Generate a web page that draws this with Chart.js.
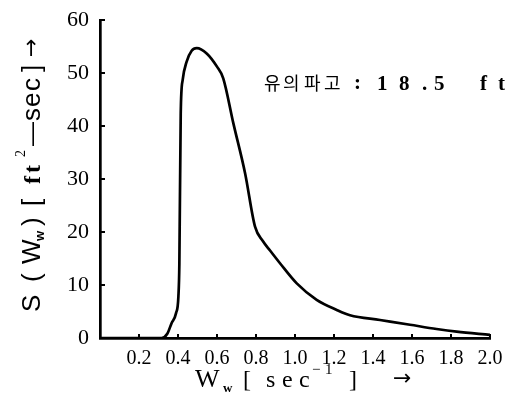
<!DOCTYPE html>
<html><head><meta charset="utf-8">
<script src="https://cdn.jsdelivr.net/npm/chart.js@4/dist/chart.umd.min.js"></script>
<style>html,body{margin:0;padding:0;background:#fff;}canvas{display:block}</style>
</head><body>
<canvas id="c" width="527" height="397"></canvas>
<script>
// ---- data ----
const frequency = [0, 0.10, 0.20, 0.30, 0.316, 0.345, 0.367, 0.390, 0.402, 0.407, 0.414, 0.424, 0.444, 0.470, 0.496, 0.547, 0.600, 0.632, 0.684, 0.744, 0.795, 0.835, 0.872, 0.923, 1.009, 1.111, 1.214, 1.282, 1.436, 1.590, 1.726, 1.829, 2.0];
const spectrum  = [0, 0, 0, 0, 0, 0.8, 2.8, 4.7, 7.8, 14.1, 42.4, 48.7, 52.1, 54.2, 54.7, 53.7, 51.2, 49.0, 40.5, 31.1, 21.0, 18.3, 16.5, 14.1, 10.3, 7.2, 5.3, 4.3, 3.4, 2.5, 1.7, 1.2, 0.6];
const xTickValues = [0.2, 0.4, 0.6, 0.8, 1.0, 1.2, 1.4, 1.6, 1.8, 2.0];
const yTickValues = [0, 10, 20, 30, 40, 50, 60];
const annotationLabel = '유의파고';
const annotationValue = '18.5';
const annotationUnit = 'ft';

const points = frequency.map((x, i) => ({x: x, y: spectrum[i]}));

function chars(ctx, list, y) { list.forEach(([t, x]) => ctx.fillText(t, x, y)); }

const decor = {
  id: 'decor',
  afterDraw(chart) {
    const ctx = chart.ctx, xs = chart.scales.x, ys = chart.scales.y;
    const a = chart.chartArea;
    ctx.save();
    ctx.strokeStyle = '#000'; ctx.lineWidth = 2;
    xTickValues.forEach(v => { const p = xs.getPixelForValue(v); ctx.beginPath(); ctx.moveTo(p, a.bottom); ctx.lineTo(p, a.bottom - 4); ctx.stroke(); });
    yTickValues.forEach(v => { if (v === 0) return; const p = ys.getPixelForValue(v); ctx.beginPath(); ctx.moveTo(a.left, p); ctx.lineTo(a.left + 5, p); ctx.stroke(); });
    ctx.fillStyle = '#000'; ctx.textBaseline = 'alphabetic'; ctx.textAlign = 'left';

    // x title: W_w [ sec^-1 ]  ->
    ctx.font = '26px "Liberation Serif"';
    ctx.fillText('W', 195, 387);
    ctx.font = 'bold 13px "Liberation Serif"';
    ctx.fillText('w', 223, 392);
    ctx.font = '24px "Liberation Serif"';
    chars(ctx, [['[', 243], ['s', 266], ['e', 282], ['c', 299]], 387);
    ctx.font = '15px "Liberation Serif"';
    chars(ctx, [['\u2212', 312], ['1', 325]], 374);
    ctx.font = '24px "Liberation Serif"';
    ctx.fillText(']', 349, 387);
    ctx.font = '22px "DejaVu Sans"';
    ctx.fillText('\u2192', 393, 385);

    // y title (rotated): S(W_w)[ft^2-sec] ->
    ctx.save();
    ctx.translate(40, 312); ctx.rotate(-Math.PI / 2);
    ctx.font = '26px "Liberation Sans"';
    chars(ctx, [['S', 0], ['(', 30], ['W', 48]], 0);
    ctx.font = 'bold 13px "Liberation Sans"';
    ctx.fillText('w', 71, 4);
    ctx.font = '26px "Liberation Sans"';
    chars(ctx, [[')', 86], ['[', 106]], 0);
    ctx.font = 'bold 24px "Liberation Serif"';
    chars(ctx, [['f', 128], ['t', 139]], 0);
    ctx.font = '14px "Liberation Serif"';
    ctx.fillText('2', 155, -15);
    ctx.font = '24px "Liberation Sans"';
    ctx.fillText('\u2014', 166, -1);
    ctx.font = '26px "Liberation Sans"';
    chars(ctx, [['s', 191], ['e', 205], ['c', 221], [']', 240]], 0);
    ctx.font = '22px "DejaVu Sans"';
    ctx.fillText('\u2192', 255, -2);
    ctx.restore();

    // annotation
    ctx.font = '18px "Noto Sans CJK KR"';
    const kx = [264, 283, 304, 324];
    [...annotationLabel].forEach((c, i) => ctx.fillText(c, kx[i], 90));
    ctx.font = 'bold 21px "Liberation Serif"';
    ctx.fillText(':', 354, 89);
    const vx = [377, 399, 422, 434];
    [...annotationValue].forEach((c, i) => ctx.fillText(c, vx[i], 90));
    const ux = [480, 498];
    [...annotationUnit].forEach((c, i) => ctx.fillText(c, ux[i], 90));
    ctx.restore();
  }
};

new Chart(document.getElementById('c'), {
  type: 'line',
  data: { datasets: [{ data: points, borderColor: '#000', borderWidth: 2.7, pointRadius: 0, fill: false, cubicInterpolationMode: 'monotone' }] },
  options: {
    responsive: false, animation: false, devicePixelRatio: 1,
    layout: { padding: { left: 0, top: 20, right: 37, bottom: 0 } },
    plugins: { legend: { display: false }, tooltip: { enabled: false } },
    scales: {
      x: {
        type: 'linear', min: 0, max: 2,
        afterBuildTicks: s => { s.ticks = xTickValues.map(v => ({ value: v })); },
        afterFit: s => { s.height = 59; },
        grid: { display: false },
        border: { display: true, color: '#000', width: 2.7 },
        ticks: { color: '#000', font: { family: 'Liberation Serif', size: 20 }, padding: 1, maxRotation: 0, autoSkip: false,
                 callback: v => Number(v).toFixed(1) }
      },
      y: {
        min: 0, max: 60,
        afterBuildTicks: s => { s.ticks = yTickValues.map(v => ({ value: v })); },
        afterFit: s => { s.width = 100; },
        grid: { display: false },
        border: { display: true, color: '#000', width: 2.7 },
        ticks: { color: '#000', font: { family: 'Liberation Serif', size: 22 }, padding: 3, callback: v => String(v) }
      }
    }
  },
  plugins: [decor]
});
</script>
</body></html>
